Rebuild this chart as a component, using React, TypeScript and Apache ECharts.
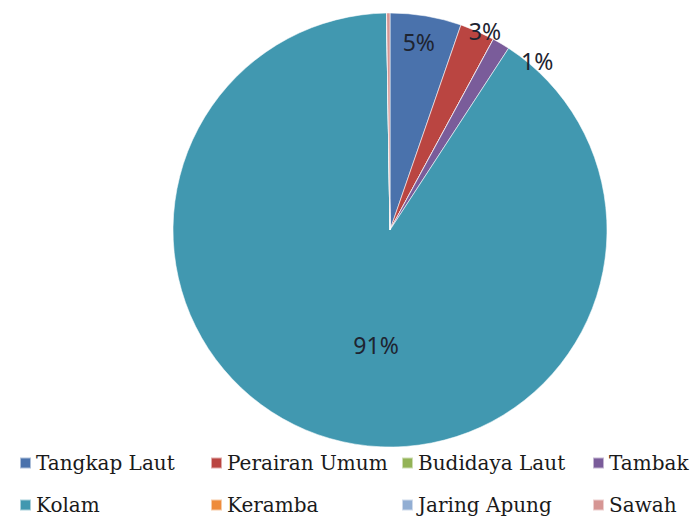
import React, { useEffect, useRef } from "react";
import * as echarts from "echarts";

const categories = [
  "Tangkap Laut",
  "Perairan Umum",
  "Budidaya Laut",
  "Tambak",
  "Kolam",
  "Keramba",
  "Jaring Apung",
  "Sawah",
];
const shares = [5.3, 2.6, 0, 1.3, 90.55, 0, 0, 0.25];
const colors = [
  "#4A72AC",
  "#BA4541",
  "#93B356",
  "#7A5C9A",
  "#4198B0",
  "#EE8C3C",
  "#92AED3",
  "#D69694",
];
const legendRow1 = ["Tangkap Laut", "Perairan Umum", "Budidaya Laut", "Tambak"];
const legendRow2 = ["Kolam", "Keramba", "Jaring Apung", "Sawah"];

const CX = 390;
const CY = 230;
const R = 217;

const labelFont = {
  fontFamily: "Noto Sans",
  fontSize: 23,
  color: "#1e2430",
};

export default function App() {
  const ref = useRef<HTMLDivElement>(null);
  useEffect(() => {
    if (!ref.current) return;
    const chart = echarts.init(ref.current, null, { renderer: "svg" });
    const fmt = (p: any) => `${Math.round(p.percent)}%`;

    const mkData = (labelIdx: number[], transparent: boolean) =>
      categories.map((name, i) => ({
        name,
        value: shares[i],
        itemStyle: transparent
          ? { color: "rgba(0,0,0,0)", borderWidth: 0 }
          : { color: colors[i] },
        label: { show: labelIdx.includes(i) },
      }));

    const legendCommon = {
      left: 19,
      width: 690,
      padding: 0,
      orient: "horizontal",
      itemWidth: 11,
      itemHeight: 11,
      itemGap: 10,
      icon: "rect",
      selectedMode: false,
      textStyle: {
        fontFamily: "DejaVu Serif",
        fontSize: 20,
        color: "#1a1a1a",
        width: 164,
        lineHeight: 24,
      },
    };

    chart.setOption({
      animation: false,
      backgroundColor: "#ffffff",
      legend: [
        {
          ...legendCommon,
          top: 451,
          data: legendRow1.map((n, i) =>
            i === 3 ? { name: n, textStyle: { width: 80 } } : { name: n }
          ),
        },
        {
          ...legendCommon,
          top: 493,
          data: legendRow2.map((n, i) =>
            i === 3 ? { name: n, textStyle: { width: 80 } } : { name: n }
          ),
        },
      ],
      series: [
        {
          type: "pie",
          name: "main",
          center: [CX, CY],
          radius: [0, R],
          startAngle: 90,
          clockwise: true,
          silent: true,
          itemStyle: { borderColor: "rgba(255,255,255,0.55)", borderWidth: 1 },
          label: { position: "inside", formatter: fmt, ...labelFont },
          labelLine: { show: false },
          labelLayout: (p: any) =>
            p.dataIndex === 4 ? { dx: 17, dy: 8 } : {},
          data: mkData([4], false),
        },
        {
          type: "pie",
          name: "labelsA",
          center: [CX, CY],
          radius: [0, R * 1.74],
          startAngle: 90,
          clockwise: true,
          silent: true,
          z: 3,
          label: { position: "inside", formatter: fmt, ...labelFont },
          labelLine: { show: false },
          labelLayout: (p: any) =>
            p.dataIndex === 0 ? { dx: -3, dy: 1 } : {},
          data: mkData([0], true),
        },
        {
          type: "pie",
          name: "labelsB",
          center: [CX, CY],
          radius: [0, R * 2.03],
          startAngle: 90,
          clockwise: true,
          silent: true,
          z: 3,
          label: { position: "inside", formatter: fmt, ...labelFont },
          labelLine: { show: false },
          labelLayout: (p: any) =>
            p.dataIndex === 3
              ? { dx: 33, dy: 23 }
              : p.dataIndex === 1
              ? { dx: 5, dy: 5 }
              : {},
          data: mkData([1, 3], true),
        },
      ],
    });
    return () => chart.dispose();
  }, []);

  return (
    <div
      ref={ref}
      style={{ position: "fixed", left: 0, top: 0, width: 697, height: 521 }}
    />
  );
}
